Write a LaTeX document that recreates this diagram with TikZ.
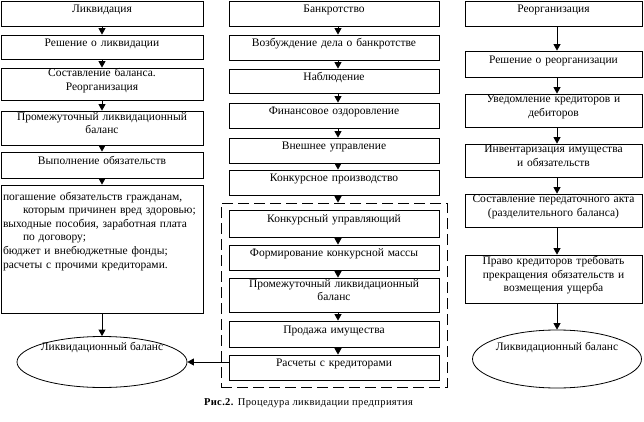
\documentclass[tikz,border=0pt]{standalone}
\usepackage{fontspec}
\setmainfont{Liberation Serif}
\newfontfamily\capfont[LetterSpace=3.5]{Liberation Serif}
\usetikzlibrary{arrows.meta,shapes.geometric}
\begin{document}
\begin{tikzpicture}[x=1pt,y=-1pt,
  every node/.style={font=\fontsize{11.5}{13.6}\selectfont},
  box/.style={draw, line width=0.8pt, rectangle, inner sep=0pt, align=center,
    execute at end node={\rule[-9.5pt]{0pt}{9.5pt}}},
  lcol/.style={minimum width=202pt, text width=198pt},
  mcol/.style={minimum width=210pt, text width=206pt},
  rcol/.style={minimum width=177pt, text width=175pt},
  listbox/.style={draw, line width=0.8pt, rectangle, inner xsep=2pt, inner ysep=0pt,
    text width=198pt, minimum width=202pt, minimum height=128pt, align=left,
    execute at end node={\rule[-38pt]{0pt}{38pt}}},
  ell/.style={draw, line width=0.8pt, ellipse, inner sep=0pt},
  grpbox/.style={draw, line width=0.8pt, dash pattern=on 11pt off 5pt, rectangle, inner sep=0pt},
  arr/.style={line width=0.8pt, -{Triangle[width=7pt,length=6.5pt]}}]
\useasboundingbox (0,0) rectangle (644,422);
\coordinate (mx) at (338,0);
\coordinate (rx) at (557,0);
% left column
\node[box,lcol,minimum height=25pt] (l1) at (102,13.5) {Ликвидация};
\node[box,lcol,minimum height=24pt] (l2) at (102,47) {Решение о ликвидации};
\node[box,lcol,minimum height=32pt] (l3) at (102,84) {Составление баланса.\\Реорганизация};
\node[box,lcol,minimum height=34pt] (l4) at (102,128) {Промежуточный ликвидационный\\баланс};
\node[box,lcol,minimum height=26pt] (l5) at (102,165) {Выполнение обязательств};
\node[listbox] (l6) at (102,249) {\makebox[198pt][s]{погашение обязательств гражданам,}\\
\hspace*{20pt}\makebox[178pt][s]{которым причинен вред здоровью;}\\
\makebox[198pt][s]{выходные пособия, заработная плата}\\
\hspace*{20pt}по договору;\\
бюджет и внебюджетные фонды;\\
расчеты с прочими кредиторами.};
\node[ell,minimum width=170pt,minimum height=51pt] (le) at (102,362) {\makebox[0pt]{\raisebox{12pt}[0pt][0pt]{Ликвидационный баланс}}};
% middle column
\node[box,mcol,minimum height=25pt] (m1) at (334,13.5) {Банкротство};
\node[box,mcol,minimum height=25pt] (m2) at (334,47.5) {Возбуждение дела о банкротстве};
\node[box,mcol,minimum height=24pt] (m3) at (334,81) {Наблюдение};
\node[box,mcol,minimum height=25pt] (m4) at (334,115.5) {Финансовое оздоровление};
\node[box,mcol,minimum height=25pt] (m5) at (334,150.5) {Внешнее управление};
\node[box,mcol,minimum height=25pt] (m6) at (334,182.5) {Конкурсное производство};
\node[grpbox,minimum width=226pt,minimum height=184pt] (grp) at (334,295) {};
\node[box,mcol,minimum height=27pt] (m7) at (334,223.5) {Конкурсный управляющий};
\node[box,mcol,minimum height=25pt] (m8) at (334,257.5) {Формирование конкурсной массы};
\node[box,mcol,minimum height=34pt] (m9) at (334,295) {Промежуточный ликвидационный\\баланс};
\node[box,mcol,minimum height=26pt] (m10) at (334,334) {Продажа имущества};
\node[box,mcol,minimum height=25pt] (m11) at (334,367.5) {Расчеты с кредиторами};
% right column
\node[box,rcol,minimum height=25pt] (r1) at (553.5,13.5) {Реорганизация};
\node[box,rcol,minimum height=26pt] (r2) at (553.5,64) {Решение о реорганизации};
\node[box,rcol,minimum height=33pt] (r3) at (553.5,110.5) {Уведомление кредиторов и\\дебиторов};
\node[box,rcol,minimum height=33pt] (r4) at (553.5,160.5) {Инвентаризация имущества\\и обязательств};
\node[box,rcol,minimum height=33pt] (r5) at (553.5,210.5) {Составление передаточного акта\\(разделительного баланса)};
\node[box,rcol,minimum height=48pt] (r6) at (553.5,279) {Право кредиторов требовать\\прекращения обязательств и\\возмещения ущерба};
\node[ell,minimum width=169pt,minimum height=58pt] (re) at (557,359) {\makebox[0pt]{\raisebox{9pt}[0pt][0pt]{Ликвидационный баланс}}};
% caption
\node[font=\capfont\fontsize{10.5}{12}\selectfont] (cap) at (308.5,403) {\textbf{Рис.2.} Процедура ликвидации предприятия};
% arrows left
\draw[arr] (l1.south) -- (l2.north);
\draw[arr] (l2.south) -- (l3.north);
\draw[arr] (l3.south) -- (l4.north);
\draw[arr] (l4.south) -- (l5.north);
\draw[arr] (l5.south) -- (l6.north);
\draw[arr] (l6.south) -- (le.north);
% arrows middle
\draw[arr] (m1.south -| mx) -- (m2.north -| mx);
\draw[arr] (m2.south -| mx) -- (m3.north -| mx);
\draw[arr] (m3.south -| mx) -- (m4.north -| mx);
\draw[arr] (m4.south -| mx) -- (m5.north -| mx);
\draw[arr] (m5.south -| mx) -- (m6.north -| mx);
\draw[arr] (m6.south -| mx) -- (grp.north -| mx);
\draw[arr] (m7.south -| mx) -- (m8.north -| mx);
\draw[arr] (m8.south -| mx) -- (m9.north -| mx);
\draw[arr] (m9.south -| mx) -- (m10.north -| mx);
\draw[arr] (m10.south -| mx) -- (m11.north -| mx);
\draw[arr] (le.east -| m11.west) -- (le.east);
% arrows right
\draw[arr] (r1.south -| rx) -- (r2.north -| rx);
\draw[arr] (r2.south -| rx) -- (r3.north -| rx);
\draw[arr] (r3.south -| rx) -- (r4.north -| rx);
\draw[arr] (r4.south -| rx) -- (r5.north -| rx);
\draw[arr] (r5.south -| rx) -- (r6.north -| rx);
\draw[arr] (r6.south -| rx) -- (re.north);
\end{tikzpicture}
\end{document}
